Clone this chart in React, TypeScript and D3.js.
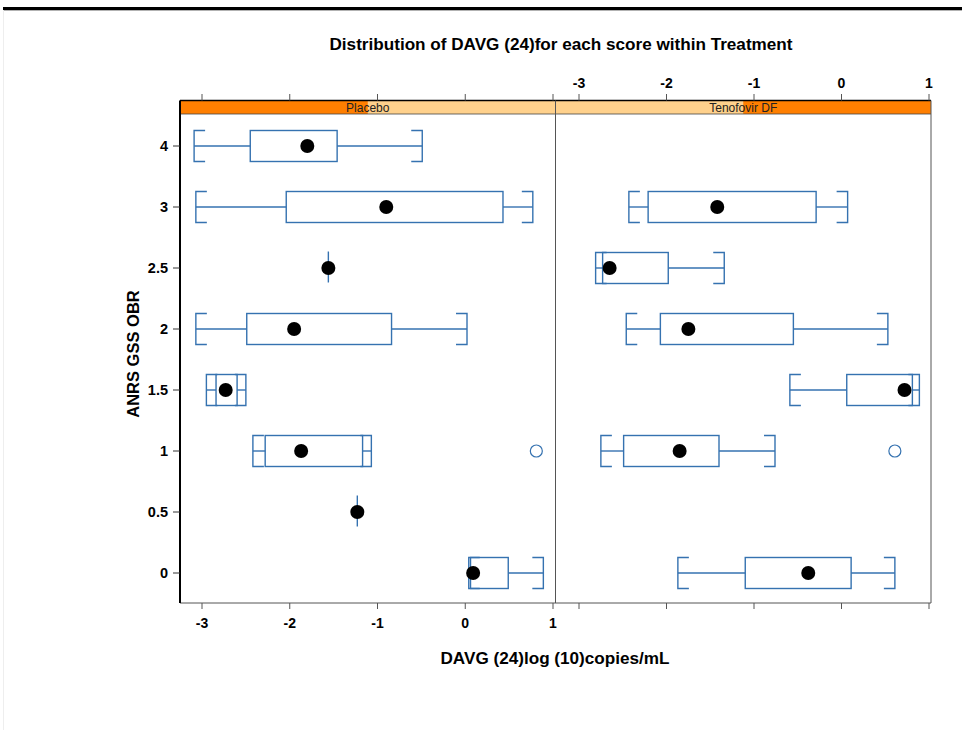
import React from "react";
import * as d3 from "d3";

const W = 962;
const H = 730;

// score levels, bottom to top
const scores = ["0", "0.5", "1", "1.5", "2", "2.5", "3", "4"];
const treatments = ["Placebo", "Tenofovir DF"];
const xTicks = [-3, -2, -1, 0, 1];

// [lower whisker, Q1, median, Q3, upper whisker] per score
const placeboStats: (number[] | null)[] = [
  [0.04, 0.06, 0.09, 0.49, 0.89],
  [-1.23, -1.23, -1.23, -1.23, -1.23],
  [-2.42, -2.28, -1.87, -1.17, -1.07],
  [-2.95, -2.84, -2.73, -2.6, -2.5],
  [-3.07, -2.49, -1.95, -0.84, 0.02],
  [-1.56, -1.56, -1.56, -1.56, -1.56],
  [-3.07, -2.04, -0.9, 0.43, 0.77],
  [-3.09, -2.45, -1.8, -1.46, -0.49],
];
const tenofovirStats: (number[] | null)[] = [
  [-1.87, -1.1, -0.38, 0.11, 0.61],
  null,
  [-2.75, -2.49, -1.85, -1.4, -0.76],
  [-0.59, 0.06, 0.72, 0.81, 0.89],
  [-2.46, -2.07, -1.75, -0.55, 0.53],
  [-2.81, -2.73, -2.65, -1.98, -1.34],
  [-2.43, -2.21, -1.42, -0.29, 0.07],
  null,
];
const placeboOutliers = [{ score: "1", value: 0.81 }];
const tenofovirOutliers = [{ score: "1", value: 0.61 }];

const BOX = "#3572b0";
const DARK = "#ff7f00";
const LIGHT = "#ffd18c";
const FONT = "Arial, 'Liberation Sans', sans-serif";

const stripTop = 100.5;
const stripBottom = 114;
const panelBottom = 603;
const panelLeft = 180;
const panelMid = 555.5;
const panelRight = 931;

export default function App() {
  const y = d3.scalePoint<string>().domain(scores).range([573, 146]);
  const xs = [
    d3.scaleLinear().domain([-3, 1]).range([202, 553]),
    d3.scaleLinear().domain([-3, 1]).range([579, 929]),
  ];
  const stats = [placeboStats, tenofovirStats];
  const outliers = [placeboOutliers, tenofovirOutliers];
  const panels = [
    [panelLeft, panelMid],
    [panelMid, panelRight],
  ];
  const half = 15.5;
  const cap = 11;

  return (
    <div style={{ position: "absolute", left: 0, top: 0 }}>
      <svg width={W} height={H} style={{ display: "block", background: "#fff" }} fontFamily={FONT}>
        <rect x={3} y={7} width={W - 3} height={3.3} fill="#000" />
        <line x1={3.5} x2={3.5} y1={10} y2={H} stroke="#eee" />

        <text
          x={561}
          y={50}
          textAnchor="middle"
          fontSize={16.5}
          fontWeight="bold"
          textLength={463}
          lengthAdjust="spacingAndGlyphs"
        >
          Distribution of DAVG (24)for each score within Treatment
        </text>

        {/* strips: light background, the level's own segment in dark */}
        {treatments.map((t, i) => {
          const [a, b] = panels[i];
          const seg = d3.scaleBand<string>().domain(treatments).range([a, b]);
          const h = stripBottom - stripTop;
          return (
            <g key={t}>
              <rect x={a} y={stripTop} width={b - a} height={h} fill={LIGHT} />
              <rect x={seg(t)} y={stripTop} width={seg.bandwidth()} height={h} fill={DARK} />
              <text x={(a + b) / 2} y={stripBottom - 2.5} textAnchor="middle" fontSize={12} fill="#222">
                {t}
              </text>
            </g>
          );
        })}
        <line x1={panelLeft} x2={panelRight} y1={stripTop} y2={stripTop} stroke="#000" strokeWidth={1.5} />
        <line x1={panelLeft} x2={panelRight} y1={stripBottom} y2={stripBottom} stroke="#444" strokeWidth={0.8} />

        {/* frame */}
        <line x1={panelLeft} x2={panelRight} y1={panelBottom} y2={panelBottom} stroke="#555" />
        <line x1={panelMid} x2={panelMid} y1={stripTop} y2={panelBottom} stroke="#555" />
        <line x1={panelRight} x2={panelRight} y1={stripTop} y2={panelBottom} stroke="#555" />
        <line x1={panelLeft} x2={panelLeft} y1={stripTop} y2={panelBottom} stroke="#000" strokeWidth={2} />

        {/* x ticks: labels alternate, top for the right panel, bottom for the left */}
        {xTicks.map((t) => (
          <g key={"t" + t}>
            <line x1={xs[0](t)} x2={xs[0](t)} y1={94} y2={stripTop} stroke="#555" />
            <line x1={xs[1](t)} x2={xs[1](t)} y1={94} y2={stripTop} stroke="#555" />
            <text x={xs[1](t)} y={88} textAnchor="middle" fontSize={14} fontWeight="bold">
              {String(t)}
            </text>
            <line x1={xs[0](t)} x2={xs[0](t)} y1={panelBottom} y2={609} stroke="#555" />
            <line x1={xs[1](t)} x2={xs[1](t)} y1={panelBottom} y2={609} stroke="#555" />
            <text x={xs[0](t)} y={628} textAnchor="middle" fontSize={14} fontWeight="bold">
              {String(t)}
            </text>
          </g>
        ))}

        {/* y ticks */}
        {scores.map((s) => (
          <g key={"y" + s}>
            <line x1={173} x2={panelLeft} y1={y(s)} y2={y(s)} stroke="#333" />
            <text x={168} y={(y(s) ?? 0) + 5} textAnchor="end" fontSize={14.5} fontWeight="bold">
              {s}
            </text>
          </g>
        ))}

        {/* boxes */}
        {stats.map((arr, p) =>
          arr.map((st, j) => {
            if (!st) return null;
            const x = xs[p];
            const cy = y(scores[j]) ?? 0;
            const [lo, q1, md, q3, hi] = st.map((v) => x(v));
            const degenerate = hi - lo < 0.5;
            return (
              <g key={p + "-" + j} fill="none" stroke={BOX} strokeWidth={1.4}>
                {degenerate ? (
                  <line x1={md} x2={md} y1={cy - half - 1} y2={cy + half - 1} />
                ) : (
                  <>
                    <rect x={q1} y={cy - half} width={q3 - q1} height={half * 2} />
                    <line x1={lo} x2={q1} y1={cy} y2={cy} />
                    <line x1={q3} x2={hi} y1={cy} y2={cy} />
                    <path d={`M${lo + cap},${cy - half}H${lo}V${cy + half}H${lo + cap}`} />
                    <path d={`M${hi - cap},${cy - half}H${hi}V${cy + half}H${hi - cap}`} />
                  </>
                )}
                <circle cx={md} cy={cy} r={7} fill="#000" stroke="none" />
              </g>
            );
          })
        )}

        {/* outliers */}
        {outliers.map((arr, p) =>
          arr.map((o, k) => (
            <circle
              key={"o" + p + k}
              cx={xs[p](o.value)}
              cy={y(o.score)}
              r={6}
              fill="none"
              stroke={BOX}
              strokeWidth={1.2}
            />
          ))
        )}

        <text
          x={555}
          y={664}
          textAnchor="middle"
          fontSize={16}
          fontWeight="bold"
          textLength={229}
          lengthAdjust="spacingAndGlyphs"
        >
          DAVG (24)log (10)copies/mL
        </text>
        <text
          transform={`translate(139,354) rotate(-90)`}
          textAnchor="middle"
          fontSize={16.5}
          fontWeight="bold"
        >
          ANRS GSS OBR
        </text>
      </svg>
    </div>
  );
}
